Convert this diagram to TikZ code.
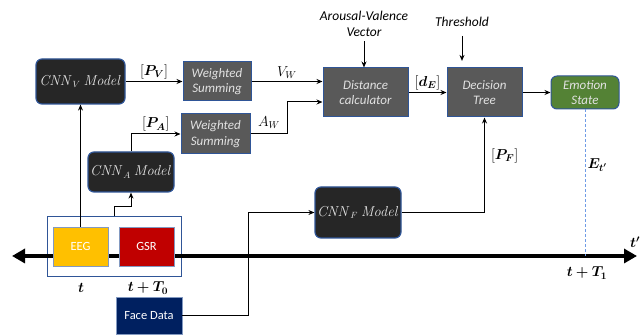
\documentclass[tikz,border=0pt]{standalone}
\usepackage[no-math]{fontspec}
\setmainfont{Carlito}
\usepackage{amsmath}
\usepackage{bm}
\usetikzlibrary{arrows.meta}

\definecolor{boxblue}{HTML}{2F5597}
\definecolor{darkfill}{HTML}{262626}
\definecolor{grayfill}{HTML}{595959}
\definecolor{greenfill}{HTML}{548235}
\definecolor{eegyellow}{HTML}{FFC000}
\definecolor{gsrred}{HTML}{C00000}
\definecolor{facenavy}{HTML}{002060}
\definecolor{dashblue}{HTML}{6E9BE6}
\definecolor{lighttext}{HTML}{E2E2E2}

\begin{document}
\begin{tikzpicture}[x=1pt, y=1pt, >={Stealth[length=6pt,width=5pt]},
    model/.style={draw=boxblue, line width=1.2pt, fill=darkfill, rounded corners=6pt,
        text=lighttext, inner sep=0pt, font=\fontsize{13.5}{15}\selectfont},
    proc/.style={draw=boxblue, line width=1pt, fill=grayfill, text=lighttext, inner sep=0pt,
        align=center, font=\itshape\fontsize{13}{15.5}\selectfont},
    signal/.style={draw=boxblue!60, line width=0.6pt, text=white, inner sep=0pt,
        font=\fontsize{12.5}{14}\selectfont},
    lbl/.style={align=center, inner sep=1pt, font=\itshape\fontsize{13.5}{16}\selectfont},
    mlbl/.style={inner sep=2pt, text=black, font=\fontsize{14}{16}\selectfont},
    conn/.style={->, line width=1pt}]

    \useasboundingbox (0,0) rectangle (641,-336);

    % Define the sensor group and the time axis
    \node[draw=boxblue, line width=1pt, minimum width=134, minimum height=60, inner sep=0pt] (sensors) at (114,-247) {};
    \coordinate (tl) at (12,-256);
    \coordinate (tr) at (637,-256);
    \draw[{Triangle[length=13pt,width=14pt]}-{Triangle[length=13pt,width=14pt]}, line width=3.5pt] (tl) -- (tr);

    % Define the input nodes
    \node[signal, fill=eegyellow, minimum width=55, minimum height=39] (eeg) at (80.5,-246.5) {EEG};
    \node[signal, fill=gsrred, minimum width=55, minimum height=39] (gsr) at (146.5,-246.5) {GSR};
    \node[signal, fill=facenavy, minimum width=66, minimum height=37] (face) at (149,-315.5) {Face Data};

    % Define the CNN models
    \node[model, minimum width=89, minimum height=45] (cnnv) at (80.5,-81.5) {$\mathit{CNN}_V\ \mathit{Model}$};
    \node[model, minimum width=86, minimum height=40] (cnna) at (131,-172) {$\mathit{CNN}_A\ \mathit{Model}$};
    \node[model, minimum width=86, minimum height=51] (cnnf) at (358,-212.5) {$\mathit{CNN}_F\ \mathit{Model}$};

    % Define the processing blocks
    \node[proc, minimum width=68, minimum height=39] (wsv) at (217,-81.5) {Weighted\\Summing};
    \node[proc, minimum width=69, minimum height=40] (wsa) at (215.5,-134) {Weighted\\Summing};
    \node[proc, minimum width=85, minimum height=49] (dist) at (365.5,-92.5) {Distance\\calculator};
    \node[proc, minimum width=75, minimum height=49] (tree) at (484.5,-92.5) {Decision\\Tree};
    \node[proc, fill=greenfill, rounded corners=6pt, minimum width=68, minimum height=33] (emo) at (585,-92.5) {Emotion\\State};

    % Define the outside labels
    \node[lbl] (avv) at (364,-23.5) {Arousal-Valence\\Vector};
    \node[lbl] (thr) at (462,-22) {Threshold};
    \node[mlbl] (t0) at (81,-288) {$\bm{t}$};
    \node[mlbl] (t1) at (148,-288) {$\bm{t+T_0}$};
    \node[mlbl] (t2) at (587,-273) {$\bm{t+T_1}$};
    \node[mlbl, anchor=west] (tp) at (628,-242) {$\bm{t'}$};

    % Draw arrows from the sensors to the models
    \draw[conn] (eeg.north) -- (cnnv.south);
    \draw[conn] (sensors.north) -- ++(0,10) -| (cnna.south);
    \draw[conn, line width=0.8pt] (face.east) -- ++(66,0) |- (cnnf.west);

    % Draw arrows through the processing chain
    \draw[conn] (cnnv) -- node[mlbl, above] {$[\bm{P_V}]$} (wsv);
    \draw[conn] (cnna.north) |- node[mlbl, pos=0.75, above] {$[\bm{P_A}]$} (wsa.west);
    \draw[conn] (wsv.east) -- node[mlbl, above] {$V_W$} (wsv.east -| dist.west);
    \draw[conn] (wsa.east) -- node[mlbl, above=3pt] {$A_W$} ++(37,0) |- ([yshift=-9.5pt]dist.west);
    \draw[conn] (avv.south) ++(0,-4) -- (avv.south |- dist.north);
    \draw[conn] (thr.south) ++(0,-8) -- ++(0,-25);
    \draw[conn] (dist) -- node[mlbl, above] {$[\bm{d_E}]$} (tree);
    \draw[conn] (tree) -- (emo);
    \draw[conn] (cnnf.east) -| node[mlbl, pos=0.8, right=4pt] {$[\bm{P_F}]$} (tree.south);

    % Draw the output time marker
    \draw[dashblue, dash pattern=on 3pt off 2pt, line width=1pt] (emo.south) -- node[mlbl, pos=0.38, right] {$\bm{E_{t'}}$} (emo.south |- tr);

\end{tikzpicture}
\end{document}
